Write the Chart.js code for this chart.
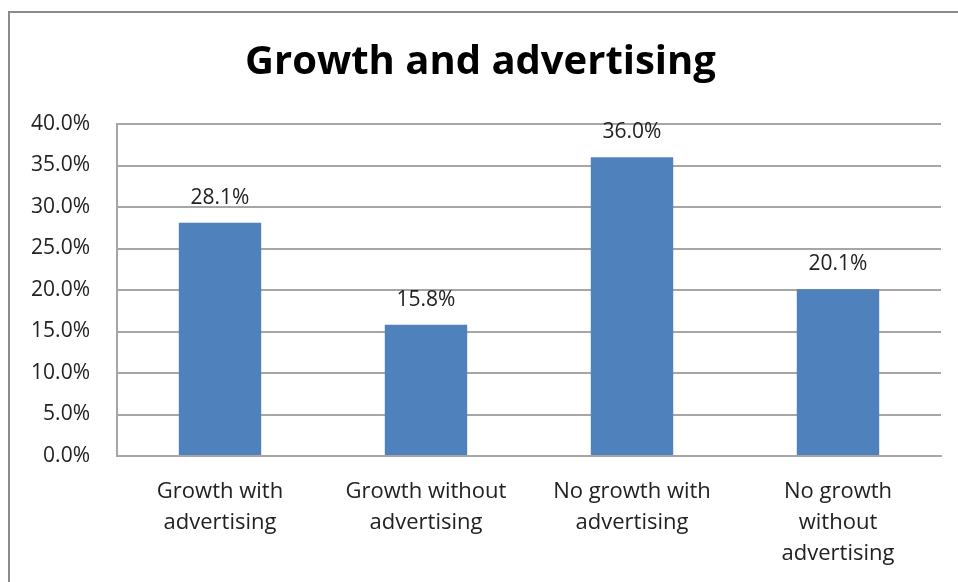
<!DOCTYPE html>
<html>
<head>
<meta charset="utf-8">
<script src="https://cdn.jsdelivr.net/npm/chart.js@4.4.1/dist/chart.umd.min.js"></script>
<style>
  html, body { margin: 0; padding: 0; background: #fff; overflow: hidden; }
  #frame { position: absolute; left: 8px; top: 11px; width: 980px; height: 600px; border: 2px solid #8c8c8c; }
  #growthChart { position: absolute; left: 0; top: 0; }
</style>
</head>
<body>
<div id="frame"></div>
<canvas id="growthChart" width="958" height="582"></canvas>
<script>
var categories = [
    ["Growth with", "advertising"],
    ["Growth without", "advertising"],
    ["No growth with", "advertising"],
    ["No growth", "without", "advertising"]
];
var shares = [28.1, 15.8, 36.0, 20.1];
var yTicks = [0, 5, 10, 15, 20, 25, 30, 35, 40];

var fontFamily = "'Open Sans', sans-serif";

// writes the value above each bar
var barValueLabels = {
    id: "barValueLabels",
    afterDatasetsDraw: function (chart) {
        var ctx = chart.ctx;
        var meta = chart.getDatasetMeta(0);
        ctx.save();
        ctx.font = "21px " + fontFamily;
        ctx.fillStyle = "#222";
        ctx.textAlign = "center";
        ctx.textBaseline = "alphabetic";
        meta.data.forEach(function (bar, i) {
            ctx.fillText(shares[i].toFixed(1) + "%", bar.x, bar.y - 19);
        });
        ctx.restore();
    }
};

var ctx = document.getElementById("growthChart").getContext("2d");
var growthChart = new Chart(ctx, {
    type: "bar",
    data: {
        labels: categories,
        datasets: [
            {
                label: "",
                data: shares,
                backgroundColor: "#4f81bd",
                borderWidth: 0,
                barPercentage: 0.4,
                categoryPercentage: 1.0
            }
        ]
    },
    options: {
        responsive: false,
        animation: false,
        events: [],
        layout: {
            padding: { left: 20, right: 17, top: 0, bottom: 6 }
        },
        plugins: {
            legend: { display: false },
            tooltip: { enabled: false },
            title: {
                display: true,
                text: "Growth and advertising",
                color: "#000",
                font: { family: fontFamily, size: 40, weight: "bold", lineHeight: 1.2 },
                padding: { top: 39, bottom: 37 }
            }
        },
        scales: {
            x: {
                grid: { display: false, drawTicks: false },
                border: { display: true, color: "#a6a6a6", width: 2 },
                ticks: {
                    color: "#222",
                    font: { family: fontFamily, size: 22, lineHeight: 1.41 },
                    padding: 20,
                    maxRotation: 0,
                    autoSkip: false
                },
                afterFit: function (scale) { scale.height = 120; }
            },
            y: {
                min: 0,
                max: 40,
                afterBuildTicks: function (scale) {
                    scale.ticks = yTicks.map(function (v) { return { value: v }; });
                },
                grid: { color: "#a6a6a6", lineWidth: 2, drawTicks: false },
                border: { display: true, color: "#a6a6a6", width: 2 },
                ticks: {
                    color: "#222",
                    font: { family: fontFamily, size: 21 },
                    padding: 27,
                    callback: function (value) { return value.toFixed(1) + "%"; }
                },
                afterFit: function (scale) { scale.width = 97; }
            }
        }
    },
    plugins: [barValueLabels]
});
</script>
</body>
</html>
